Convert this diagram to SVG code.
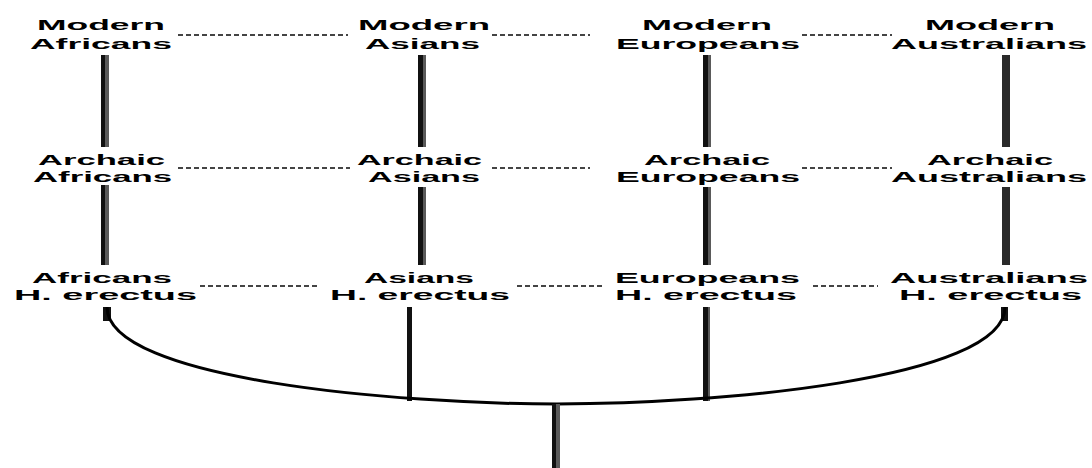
<svg xmlns="http://www.w3.org/2000/svg" width="1092" height="468" viewBox="0 0 1092 468">
<style>
text{font-family:"Liberation Sans",Arial,sans-serif;font-weight:bold;font-size:14px;fill:#000}
.dot{stroke:#444;stroke-width:2;stroke-dasharray:5 3;fill:none}
.dk{fill:#111}
.gy{fill:#5a5a5a}
.cv{stroke:#000;stroke-width:3;fill:none}
</style>
<rect width="1092" height="468" fill="#fff"/>
<g id="connectors">
  <line class="dot" x1="178" y1="35" x2="348" y2="35"/>
  <line class="dot" x1="492" y1="35" x2="590" y2="35"/>
  <line class="dot" x1="802" y1="35" x2="892" y2="35"/>
  <line class="dot" x1="178" y1="168" x2="350" y2="168"/>
  <line class="dot" x1="492" y1="168" x2="590" y2="168"/>
  <line class="dot" x1="802" y1="168" x2="892" y2="168"/>
  <line class="dot" x1="200" y1="286" x2="320" y2="286"/>
  <line class="dot" x1="517" y1="286" x2="605" y2="286"/>
  <line class="dot" x1="813" y1="286" x2="878" y2="286"/>
  <rect class="dk" x="101" y="55" width="4" height="92"/><rect class="gy" x="105" y="55" width="4" height="92"/>
  <rect class="dk" x="101" y="185" width="4" height="80"/><rect class="gy" x="105" y="185" width="4" height="80"/>
  <rect class="dk" x="418" y="55" width="5" height="92"/><rect class="gy" x="423" y="55" width="3" height="92"/>
  <rect class="dk" x="418" y="187" width="5" height="78"/><rect class="gy" x="423" y="187" width="3" height="78"/>
  <rect class="dk" x="407" y="307" width="5" height="94"/>
  <rect class="dk" x="703" y="55" width="5" height="92"/><rect class="gy" x="708" y="55" width="3" height="92"/>
  <rect class="dk" x="703" y="187" width="5" height="78"/><rect class="gy" x="708" y="187" width="3" height="78"/>
  <rect class="dk" x="703" y="307" width="5" height="94"/><rect class="gy" x="708" y="307" width="2" height="94"/>
  <rect fill="#2a2a2a" x="1002" y="55" width="8" height="92"/>
  <rect fill="#2a2a2a" x="1002" y="187" width="8" height="78"/>
  <rect class="dk" x="103" y="307" width="8" height="14"/>
  <rect class="dk" x="1001" y="307" width="7" height="14"/>
  <path class="cv" d="M107,307 C107,380 400,404 557,404"/>
  <path class="cv" d="M1005,307 C1005,380 714,404 557,404"/>
  <rect class="dk" x="552" y="404" width="4" height="64"/><rect class="gy" x="556" y="404" width="4" height="64"/>
</g>
<g id="modern-africans"><text x="37" y="30" textLength="128" lengthAdjust="spacingAndGlyphs">Modern</text><text x="30" y="49" textLength="142" lengthAdjust="spacingAndGlyphs">Africans</text></g>
<g id="modern-asians"><text x="358" y="30" textLength="132" lengthAdjust="spacingAndGlyphs">Modern</text><text x="365" y="49" textLength="115" lengthAdjust="spacingAndGlyphs">Asians</text></g>
<g id="modern-europeans"><text x="642" y="30" textLength="130" lengthAdjust="spacingAndGlyphs">Modern</text><text x="616" y="49" textLength="184" lengthAdjust="spacingAndGlyphs">Europeans</text></g>
<g id="modern-australians"><text x="925" y="30" textLength="130" lengthAdjust="spacingAndGlyphs">Modern</text><text x="891" y="49" textLength="196" lengthAdjust="spacingAndGlyphs">Australians</text></g>
<g id="archaic-africans"><text x="38" y="165" textLength="127" lengthAdjust="spacingAndGlyphs">Archaic</text><text x="33" y="182" textLength="139" lengthAdjust="spacingAndGlyphs">Africans</text></g>
<g id="archaic-asians"><text x="357" y="165" textLength="125" lengthAdjust="spacingAndGlyphs">Archaic</text><text x="368" y="182" textLength="112" lengthAdjust="spacingAndGlyphs">Asians</text></g>
<g id="archaic-europeans"><text x="644" y="165" textLength="126" lengthAdjust="spacingAndGlyphs">Archaic</text><text x="616" y="182" textLength="184" lengthAdjust="spacingAndGlyphs">Europeans</text></g>
<g id="archaic-australians"><text x="927" y="165" textLength="126" lengthAdjust="spacingAndGlyphs">Archaic</text><text x="891" y="182" textLength="196" lengthAdjust="spacingAndGlyphs">Australians</text></g>
<g id="african-erectus"><text x="32" y="283" textLength="140" lengthAdjust="spacingAndGlyphs">Africans</text><text x="14" y="300" textLength="183" lengthAdjust="spacingAndGlyphs">H. erectus</text></g>
<g id="asian-erectus"><text x="364" y="283" textLength="110" lengthAdjust="spacingAndGlyphs">Asians</text><text x="330" y="300" textLength="180" lengthAdjust="spacingAndGlyphs">H. erectus</text></g>
<g id="european-erectus"><text x="615" y="283" textLength="185" lengthAdjust="spacingAndGlyphs">Europeans</text><text x="615" y="300" textLength="182" lengthAdjust="spacingAndGlyphs">H. erectus</text></g>
<g id="australian-erectus"><text x="890" y="283" textLength="198" lengthAdjust="spacingAndGlyphs">Australians</text><text x="899" y="300" textLength="183" lengthAdjust="spacingAndGlyphs">H. erectus</text></g>
</svg>
